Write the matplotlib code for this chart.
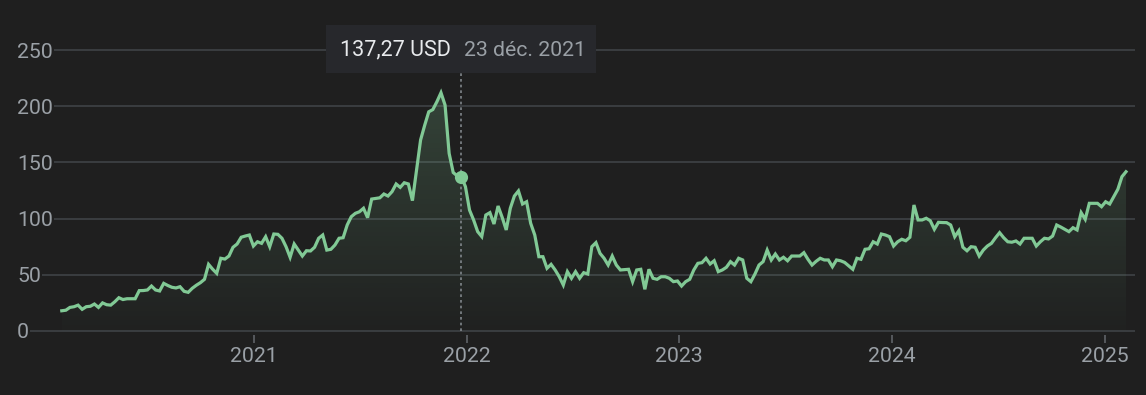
import matplotlib
matplotlib.use("Agg")
import matplotlib.pyplot as plt
import matplotlib.dates as mdates
from matplotlib.colors import to_rgb
from matplotlib.patches import Rectangle
import numpy as np
import pandas as pd

# weekly closes (USD), Thursdays from 2020-02-06 to 2025-02-06
start = "2020-02-06"
prices = [
    18, 18.5, 21, 21.6, 23, 19.3, 21.6, 22, 24, 21,
    25, 23.4, 23, 26, 29.6, 28, 28.7, 28.7, 28.7, 35.9,
    36, 36.5, 40, 36.5, 35.6, 42.4, 40.5, 38.9, 38.3, 39.4,
    35.3, 34.4, 38, 40.7, 43, 46, 59.3, 55, 51.3, 64.7,
    64, 66.7, 74.5, 77.4, 83.4, 84.5, 85.4, 75.6, 79.4, 78,
    83.9, 75, 86.3, 86, 82.5, 75, 65.6, 77.4, 72, 66.7,
    71.4, 71.2, 74.5, 82.5, 85.4, 72, 72.7, 76.5, 82.5, 83,
    94.3, 101.7, 104.7, 106.1, 109.2, 100.8, 117.4, 118, 118.5, 121.9,
    120.1, 124, 130.8, 127.8, 131.9, 130.8, 116, 143, 170, 183,
    195, 197, 204, 212, 201, 158, 141, 138, 137.27, 128.4,
    107.6, 98.8, 88.4, 84, 103.2, 105.3, 95.2, 111.2, 101.2, 89.9,
    109.2, 120.1, 124.6, 113, 115, 95.8, 85.4, 66.1, 66.1, 55.8,
    59.3, 54.3, 48.3, 40.9, 52.8, 46.9, 52.8, 46.9, 51.9, 50.7,
    75, 78.6, 69.1, 64.7, 58.7, 66.7, 58.7, 54.3, 54.6, 54.9,
    43.9, 54.3, 54.9, 37.1, 54.9, 46.9, 46, 48.3, 48.3, 46.9,
    43.9, 44.5, 40, 43.9, 46, 54.3, 60.2, 60.8, 64.7, 59.6,
    62.5, 52.8, 54.3, 56.7, 61.7, 58.7, 64.7, 63.2, 46.9, 43.9,
    50.7, 58.7, 61.7, 72, 63.2, 68.5, 63.2, 65.6, 62.5, 66.7,
    66.7, 66.7, 69.7, 63.8, 58.7, 62, 64.7, 63.2, 63.2, 57.2,
    63.2, 62.5, 61, 58, 54.9, 64.7, 63.8, 72.7, 73.2, 79.4,
    77.4, 86.3, 85.4, 83.9, 75.6, 79.4, 81.6, 80.3, 83.4, 112.1,
    98.8, 98.8, 100.3, 98.1, 90.5, 96.7, 96.5, 96.4, 94.3, 83.9,
    89.2, 74.5, 71.4, 75, 74.5, 66.7, 72, 75.6, 78, 83,
    87.5, 83, 79.4, 79, 80.1, 77.4, 82.5, 82.5, 82.5, 75.6,
    79.4, 82.5, 81.9, 84.5, 94.3, 92.5, 90.5, 88.4, 91.9, 89.9,
    105.3, 99.4, 113.6, 113.6, 113.6, 110.6, 115, 113, 119.5, 126.1,
    137.3, 141.7,
]
dates = pd.date_range(start, periods=len(prices), freq="7D")

hover_date = pd.Timestamp("2021-12-23")
hover_price = 137.27
hover_value_text = "137,27 USD"
hover_date_text = "23 déc. 2021"

y_ticks = [0, 50, 100, 150, 200, 250]
year_ticks = [2021, 2022, 2023, 2024, 2025]

bg = "#1f1f1f"
green = "#81c995"
grid_c = "#3c4043"
label_c = "#9aa0a6"

plt.rcParams["font.family"] = ["Roboto", "DejaVu Sans"]

W, H = 1146, 395
fig = plt.figure(figsize=(W / 100, H / 100), dpi=100, facecolor=bg)
ax = fig.add_axes([17 / W, (H - 335) / H, (1135 - 17) / W, (335 - 20) / H])
ax.set_facecolor(bg)
ax.set_axisbelow(True)

x = mdates.date2num(dates)
ax.plot(x, prices, color=green, lw=2.3, solid_joinstyle="miter", zorder=3)

# gradient fill under the curve
fill = ax.fill_between(x, prices, 0, color="none", lw=0)
grad = np.linspace(0, 1, 256).reshape(-1, 1)
rgba = np.zeros((256, 1, 4))
rgba[..., :3] = to_rgb(green)
rgba[..., 3] = 0.015 + grad[..., 0:1] * 0.2
im = ax.imshow(rgba, extent=[x[0], x[-1], 0, max(prices)], origin="lower",
               aspect="auto", zorder=2, interpolation="bilinear")
im.set_clip_path(fill.get_paths()[0], transform=ax.transData)

# hover cursor
cursor_top = 229.5
ax.vlines(mdates.date2num(hover_date), 0, cursor_top, colors="#80868b",
          lw=1.2, linestyles=(0, (1.6, 1.8)), zorder=2.5)
ax.plot(mdates.date2num(hover_date), hover_price, "o", ms=9.5, color=green,
        mec="none", zorder=4)

# axes limits / ticks
d0 = mdates.date2num(pd.Timestamp("2021-01-01"))
px_day = 0.5825
ax.set_xlim(d0 - (254 - 17) / px_day, d0 + (1135 - 254) / px_day)
ax.set_ylim(-3.56, 276.7)

for s in ax.spines.values():
    s.set_visible(False)

ax.set_yticks(y_ticks)
ax.set_yticklabels([str(v) for v in y_ticks])
ax.grid(axis="y", color=grid_c, lw=1.3)
ax.tick_params(axis="y", length=0, pad=0, labelcolor=label_c, labelsize=15.3)
for lbl in ax.get_yticklabels():
    lbl.set_horizontalalignment("left")
    lbl.set_bbox(dict(boxstyle="square,pad=0.05", fc=bg, ec="none"))

ax.set_xticks([mdates.date2num(pd.Timestamp(f"{y}-01-01")) for y in year_ticks])
ax.set_xticklabels([str(y) for y in year_ticks])
ax.tick_params(axis="x", length=6, width=1.2, color="#5f6368", pad=3,
               labelcolor=label_c, labelsize=15.3)

# tooltip
fig.patches.append(Rectangle((326 / W, 1 - 73 / H), 270 / W, 48 / H,
                             transform=fig.transFigure, fc="#27282c", ec="none"))
fig.text(340 / W, 1 - 50 / H, hover_value_text, color="#e8eaed", fontsize=15.5,
         ha="left", va="center")
fig.text(464 / W, 1 - 50 / H, hover_date_text, color=label_c, fontsize=15.3,
         ha="left", va="center")

fig.savefig("out.png", dpi=100, facecolor=bg)
